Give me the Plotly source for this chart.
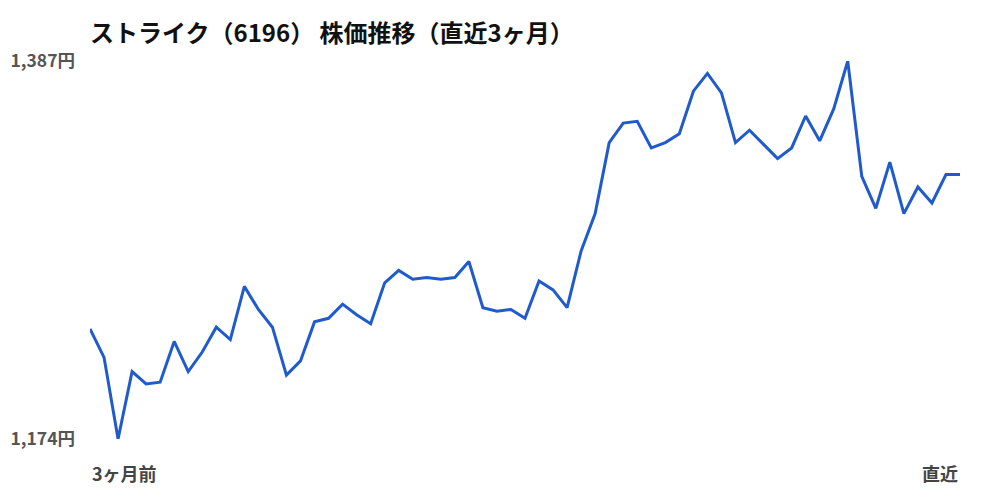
import plotly.graph_objects as go

# 株価（直近3ヶ月、終値）
prices = [
    1236, 1220, 1174, 1212, 1205, 1206, 1229, 1212, 1223, 1237,
    1230, 1260, 1247, 1237, 1210, 1218, 1240, 1242, 1250, 1244,
    1239, 1262, 1269, 1264, 1265, 1264, 1265, 1274, 1248, 1246,
    1247, 1242, 1263, 1258, 1248, 1280, 1301, 1341, 1352, 1353,
    1338, 1341, 1346, 1370, 1380, 1369, 1341, 1348, 1340, 1332,
    1338, 1356, 1342, 1360, 1387, 1322, 1304, 1330, 1301, 1316,
    1307, 1323, 1323,
]
days = list(range(len(prices)))

y_ticks = [min(prices), max(prices)]
y_labels = [f"{v:,}円" for v in y_ticks]
x_labels = ["3ヶ月前", "直近"]

font = "Noto Sans CJK JP"

fig = go.Figure()
fig.add_trace(go.Scatter(
    x=days, y=prices, mode="lines",
    line=dict(color="#1f5bcc", width=3),
    hoverinfo="skip",
))

fig.update_layout(
    width=1000, height=500,
    margin=dict(l=82, r=48, t=53, b=69),
    paper_bgcolor="white", plot_bgcolor="white",
    showlegend=False,
    title=dict(
        text="<b>ストライク（6196） 株価推移（直近3ヶ月）</b>",
        x=0, xref="paper", xanchor="left",
        y=1 - 26 / 500, yref="container", yanchor="middle",
        font=dict(family=font, size=24, color="#111"),
    ),
    xaxis=dict(
        range=[days[0], days[-1]], showgrid=False, zeroline=False,
        showticklabels=False, showline=False, automargin=False,
    ),
    yaxis=dict(
        range=y_ticks, showgrid=False, zeroline=False, showline=False,
        tickvals=y_ticks, ticktext=y_labels, ticks="",
        ticklabelstandoff=14, automargin=False,
        tickfont=dict(family=font, size=17.5, color="#555", weight="bold"),
    ),
)

fig.add_annotation(x=days[0], y=0, xref="x", yref="paper", yshift=-49,
                   text=x_labels[0], showarrow=False, xanchor="left",
                   font=dict(family=font, size=18, color="#444", weight="bold"))
fig.add_annotation(x=days[-1], y=0, xref="x", yref="paper", yshift=-49,
                   text=x_labels[1], showarrow=False, xanchor="right",
                   font=dict(family=font, size=18, color="#444", weight="bold"))

fig.write_html("out.html")
